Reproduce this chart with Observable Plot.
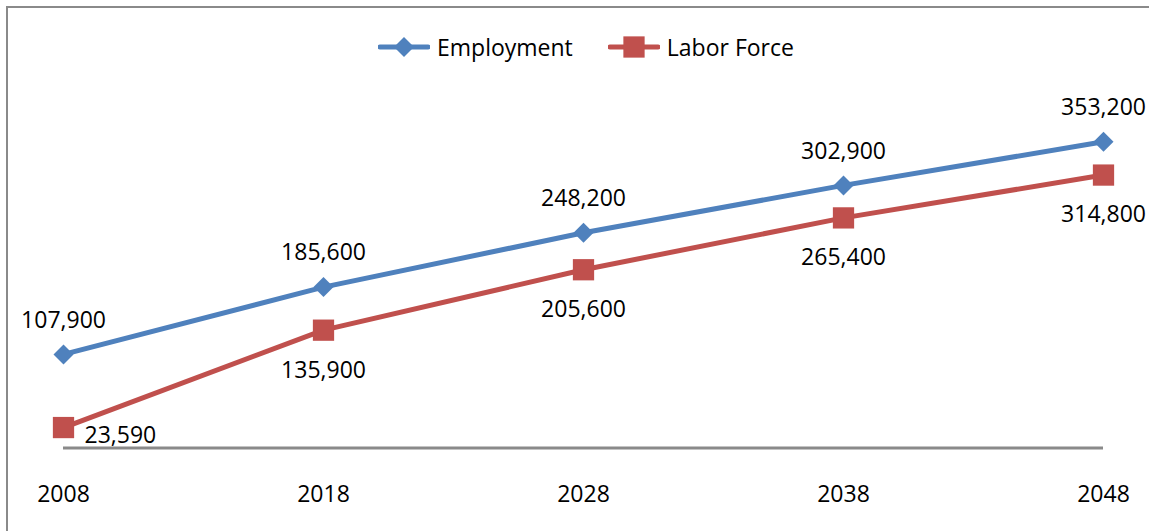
<!DOCTYPE html>
<html>
<head>
<meta charset="utf-8">
<script src="https://cdn.jsdelivr.net/npm/d3@7"></script>
<script src="https://cdn.jsdelivr.net/npm/@observablehq/plot@0.6"></script>
<style>
  html, body { margin: 0; padding: 0; background: #fff; overflow: hidden; }
  body { width: 1149px; height: 531px; position: relative; font-family: 'Open Sans', sans-serif; }
  #frame { position: absolute; left: 6px; top: 6px; width: 1300px; height: 700px; border: 2px solid #8a8a8a; box-sizing: border-box; pointer-events: none; }
  #legend { position: relative; height: 62px; }
  #legend .items { position: absolute; left: 378px; top: 35px; height: 24px; display: flex; align-items: center; font-size: 23px; color: #000; white-space: nowrap; }
  #legend .item { display: flex; align-items: center; }
  #legend .item svg { display: block; }
  #legend .label { margin-left: 7px; line-height: 24px; }
  #chart svg { display: block; }
</style>
</head>
<body>
<div id="frame"></div>
<div id="legend"><div class="items"></div></div>
<div id="chart"></div>
<script>
const years = [2008, 2018, 2028, 2038, 2048];
const employment = [107900, 185600, 248200, 302900, 353200];
const laborForce = [23590, 135900, 205600, 265400, 314800];
const seriesNames = ["Employment", "Labor Force"];
const seriesColors = ["#4F81BD", "#C0504D"];
const seriesSymbols = ["diamond2", "square"];

const data = years.flatMap((yr, i) => [
  {year: yr, series: seriesNames[0], value: employment[i], idx: i},
  {year: yr, series: seriesNames[1], value: laborForce[i], idx: i}
]);
const emp = data.filter(d => d.series === seriesNames[0]);
const lab = data.filter(d => d.series === seriesNames[1]);
const fmt = d3.format(",");

// Legend
const items = d3.select("#legend .items");
seriesNames.forEach((name, i) => {
  const it = items.append("div").attr("class", "item").style("margin-right", i === 0 ? "35px" : "0");
  const s = it.append("svg").attr("width", 52).attr("height", 24);
  s.append("line").attr("x1", 2).attr("x2", 50).attr("y1", 12).attr("y2", 12)
    .attr("stroke", seriesColors[i]).attr("stroke-width", 5).attr("stroke-linecap", "round");
  const sym = i === 0 ? d3.symbol(d3.symbolDiamond2, Math.PI * 81) : d3.symbol(d3.symbolSquare, Math.PI * 144);
  s.append("path").attr("d", sym()).attr("transform", "translate(26,12)").attr("fill", seriesColors[i]);
  it.append("span").attr("class", "label").text(name);
});

const chart = Plot.plot({
  width: 1149,
  height: 469,
  marginLeft: 63,
  marginRight: 46,
  marginTop: 38.7,
  marginBottom: 83.5,
  x: {type: "point", domain: years, padding: 0, label: null},
  y: {domain: [0, 400000], axis: null},
  color: {domain: seriesNames, range: seriesColors},
  style: {fontFamily: "'Open Sans', sans-serif", color: "black", overflow: "visible", background: "transparent"},
  marks: [
    Plot.ruleY([0], {stroke: "#8a8a8a", strokeWidth: 3}),
    Plot.axisX({tickSize: 0, tickPadding: 38, fontSize: 23, tickFormat: d => String(d), fill: "black", label: null}),
    Plot.line(data, {x: "year", y: "value", stroke: "series", strokeWidth: 5, strokeLinejoin: "round"}),
    Plot.dot(emp, {x: "year", y: "value", symbol: seriesSymbols[0], r: 9, fill: seriesColors[0]}),
    Plot.dot(lab, {x: "year", y: "value", symbol: seriesSymbols[1], r: 12, fill: seriesColors[1]}),
    Plot.text(emp, {x: "year", y: "value", text: d => fmt(d.value), dy: -34, fontSize: 23, fill: "black"}),
    Plot.text(lab.filter(d => d.idx > 0), {x: "year", y: "value", text: d => fmt(d.value), dy: 40, fontSize: 23, fill: "black"}),
    Plot.text(lab.filter(d => d.idx === 0), {x: "year", y: "value", text: d => fmt(d.value), dx: 21, dy: 8, textAnchor: "start", fontSize: 23, fill: "black"})
  ]
});
document.getElementById("chart").appendChild(chart);
</script>
</body>
</html>
